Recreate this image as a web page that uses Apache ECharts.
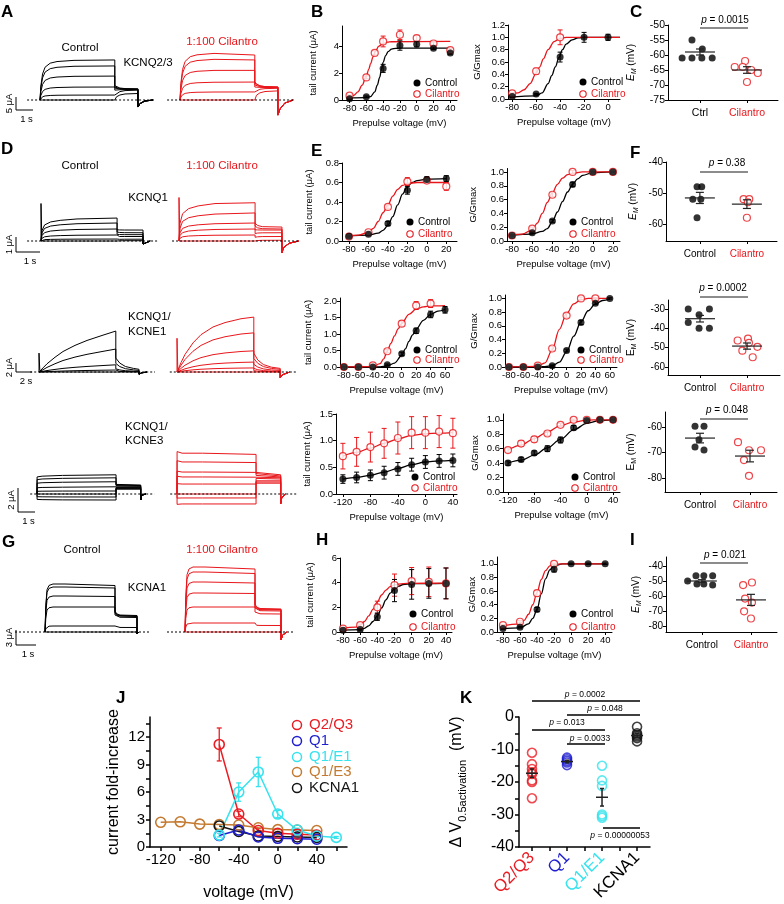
<!DOCTYPE html>
<html><head><meta charset="utf-8">
<script src="https://cdn.jsdelivr.net/npm/echarts@6/dist/echarts.min.js"></script>
<style>html,body{margin:0;padding:0;background:#fff}#c{width:784px;height:904px}</style>
</head><body><div id="c"></div>
<script>
// ======================= DATA =======================
// ---- Raw current traces (time s from pulse start, current µA) ----
// A: KCNQ2/3
const A_pulseEnd = 4.4, A_ctrlTailStop = 5.76, A_cilTailStop = 5.76;
const A_riseT = [0, 0.05, 0.15, 0.3, 0.6, 1.0, 2.0];
const A_riseF = [0, 0.35, 0.65, 0.82, 0.92, 0.96, 0.99];
const A_tailT = [0.1, 0.3, 0.6];
const A_tailG = [0.55, 0.25, 0.08];
const A_ctrlLevel = [15.4, 13.1, 9.2, 5.0, 1.9, 0];
const A_ctrlLevelEnd = [15.4, 13.1, 9.2, 5.0, 1.9, 0];
const A_ctrlTailStart = [5.5, 5.0, 4.6, 3.8, 1.5, 0.2];
const A_ctrlTailEnd = [4.3, 4.2, 4.1, 4.0, 3.8, 2.5];
const A_ctrlOff = [[0, -2.7], [0.12, -1.4], [0.4, -0.4], [0.9, 0]];
const A_ctrlBase = [-0.76, 6.65];
const A_cilLevel = [18.1, 15.8, 11.5, 6.9, 3.1, 0];
const A_cilLevelEnd = [17.3, 15.4, 11.4, 6.9, 3.1, 0];
const A_cilTailStart = [7.0, 6.5, 5.8, 5.0, 3.0, 0.5];
const A_cilTailEnd = [5.0, 5.0, 4.9, 4.8, 4.5, 3.5];
const A_cilOff = [[0, -5.8], [0.12, -3.5], [0.4, -1.2], [0.9, 0]];
const A_cilBase = [-0.76, 6.76];
const A_scale = [1, 5];
// D1: KCNQ1
const D1_pulseEnd = 3.17, D1_ctrlTailStop = 4.25, D1_cilTailStop = 4.29;
const D1_riseT = [0, 0.04, 0.15, 0.4, 0.8, 1.5];
const D1_riseF = [0, 0.45, 0.7, 0.83, 0.9, 0.96];
const D1_tailT = [0.1, 0.3];
const D1_tailG = [0.4, 0.1];
const D1_ctrlLevel = [1.53, 1.2, 0.8, 0.4, 0.13, 0];
const D1_ctrlLevelEnd = [1.53, 1.2, 0.8, 0.4, 0.13, 0];
const D1_ctrlTailStart = [0.75, 0.6, 0.45, 0.3, 0.1, 0];
const D1_ctrlTailEnd = [0.73, 0.55, 0.42, 0.3, 0.12, 0.02];
const D1_ctrlOff = [[0, -0.2], [0.05, -0.1], [0.3, 0]];
const D1_ctrlBase = [-0.58, 4.92];
const D1_ctrlSpike = [[0, 0], [0, 2.5], [0.03, 0.4]];
const D1_cilLevel = [2.6, 1.87, 1.2, 0.8, 0.4, 0];
const D1_cilLevelEnd = [2.55, 1.87, 1.2, 0.8, 0.4, 0];
const D1_cilTailStart = [1.2, 1.0, 0.75, 0.5, 0.25, 0];
const D1_cilTailEnd = [0.93, 0.8, 0.73, 0.55, 0.3, 0.05];
const D1_cilOff = [[0, -0.8], [0.06, -0.45], [0.3, -0.15], [0.7, 0]];
const D1_cilBase = [-0.29, 5.04];
const D1_cilSpike = [[0, 0], [0, 2.9], [0.03, 0.6]];
const D1_scale = [1, 1];
// D2: KCNQ1/KCNE1
const D2_pulseEnd = 9.6, D2_ctrlTailStop = 12.5, D2_cilTailStop = 12.9;
const D2_riseT = [0, 0.5, 1, 2, 3, 4.5, 6, 8];
const D2_ctrlRiseF = [0, 0.1, 0.2, 0.36, 0.5, 0.65, 0.77, 0.9];
const D2_cilRiseF = [0, 0.17, 0.32, 0.53, 0.68, 0.82, 0.9, 0.97];
const D2_tailT = [0.5, 1.2, 2.2];
const D2_tailG = [0.55, 0.25, 0.08];
const D2_ctrlLevel = [9.1, 5.1, 1.6, 0.44, 0];
const D2_ctrlTailStart = [3.1, 1.9, 0.7, 0.2, 0];
const D2_ctrlTailEnd = [0.6, 0.35, 0.15, 0.05, 0];
const D2_ctrlOff = [[0, -0.5], [0.3, -0.2], [1, 0]];
const D2_ctrlBase = [-1.1, 14.5];
const D2_ctrlSpike = [[0, 0], [0, 4.2], [0.1, 0.3]];
const D2_cilLevel = [12.2, 8.7, 4.7, 2.2, 0.9, 0];
const D2_cilTailStart = [4.2, 3.0, 1.7, 0.8, 0.3, 0];
const D2_cilTailEnd = [0.8, 0.6, 0.35, 0.15, 0.05, 0];
const D2_cilOff = [[0, -1.3], [0.3, -0.6], [1.2, 0]];
const D2_cilBase = [-0.9, 15.0];
const D2_cilSpike = [[0, 0], [0, 7.5], [0.1, 0.5]];
const D2_scale = [2, 2];
// D3: KCNQ1/KCNE3
const D3_pulseEnd = 4.65, D3_ctrlTailStop = 6.1, D3_cilTailStop = 6.1;
const D3_riseT = [0, 0.005, 0.3, 1.5];
const D3_ctrlRiseF = [0, 0.9, 0.94, 0.98];
const D3_cilRiseF = [0, 1.04, 1.0, 1.0];
const D3_tailT = [0.1];
const D3_tailG = [0.3];
const D3_ctrlLevel = [1.58, 1.33, 1.0, 0.58, 0.25, 0, -0.25, -0.5];
const D3_ctrlLevelEnd = [1.6, 1.35, 1.02, 0.6, 0.25, 0, -0.25, -0.5];
const D3_ctrlTailStart = [0.8, 0.75, 0.7, 0.62, 0.55, 0.5, 0.45, 0.4];
const D3_ctrlTailEnd = [0.75, 0.7, 0.65, 0.6, 0.55, 0.5, 0.45, 0.4];
const D3_ctrlOff = [[0, -0.5], [0.05, -0.1], [0.3, 0]];
const D3_ctrlBase = [-0.4, 6.9];
const D3_cilLevel = [3.4, 2.67, 1.83, 1.42, 0.83, 0, -0.33, -0.83];
const D3_cilLevelEnd = [3.3, 2.62, 1.8, 1.4, 0.83, 0, -0.33, -0.83];
const D3_cilTailStart = [1.8, 1.7, 1.55, 1.45, 1.3, 1.1, 1.0, 0.9];
const D3_cilTailEnd = [1.6, 1.5, 1.42, 1.35, 1.25, 1.1, 1.0, 0.9];
const D3_cilOff = [[0, -0.8], [0.06, -0.3], [0.3, 0]];
const D3_cilBase = [-0.4, 7.1];
const D3_scale = [1, 2];
// G: KCNA1
const G_pulseEnd = 3.5, G_ctrlTailStop = 4.6, G_cilTailStop = 4.8;
const G_riseT = [0, 0.04, 0.1, 0.2, 0.4, 1.0];
const G_riseF = [0, 0.55, 0.88, 0.97, 1.0, 1.0];
const G_tailT = [0.08, 0.25];
const G_tailG = [0.4, 0.1];
const G_ctrlLevel = [9.6, 9.0, 7.2, 5.0, 1.2, 0];
const G_ctrlLevelEnd = [9.3, 8.8, 7.1, 5.0, 1.2, 0];
const G_ctrlTailStart = [4.2, 4.0, 3.8, 3.4, 1.0, 0];
const G_ctrlTailEnd = [3.3, 3.2, 3.1, 2.9, 0.9, 0];
const G_ctrlOff = [[0, -0.4], [0.1, 0]];
const G_ctrlBase = [-1.5, 5.25];
const G_cilLevel = [13.0, 12.0, 10.0, 7.8, 5.0, 1.8, 0];
const G_cilLevelEnd = [12.6, 11.7, 9.8, 7.7, 5.0, 1.8, 0];
const G_cilTailStart = [5.6, 5.4, 5.1, 4.8, 4.0, 1.4, 0];
const G_cilTailEnd = [4.6, 4.5, 4.4, 4.2, 3.6, 1.3, 0];
const G_cilOff = [[0, -1.6], [0.08, -0.6], [0.3, 0]];
const G_cilBase = [-0.9, 5.5];
const G_scale = [1, 3];

// ---- B: KCNQ2/3 tail current & G/Gmax ----
const B_v = [-80, -60, -40, -20, 0, 20, 40];
const B_tailCtrl = [0.1, 0.25, 2.35, 4.05, 4.15, 3.85, 3.5];
const B_tailCtrlErr = [0.05, 0.05, 0.3, 0.35, 0.2, 0.1, 0.1];
const B_vCil = [-80, -60, -50, -40, -20, 0, 20, 40];
const B_tailCil = [0.32, 1.68, 3.5, 4.35, 4.85, 4.6, 4.2, 3.7];
const B_tailCilErr = [0.05, 0.1, 0.15, 0.4, 0.35, 0.2, 0.12, 0.1];
const B_fitCtrlV = [-82, -60, -55, -50, -47, -44, -42, -40, -37, -34, -30, -25, -20, 40];
const B_fitCtrl = [0.15, 0.17, 0.25, 0.6, 1.1, 1.7, 2.3, 2.8, 3.3, 3.6, 3.78, 3.84, 3.85, 3.85];
const B_fitCilV = [-82, -75, -70, -65, -60, -57, -55, -52, -50, -45, -40, -35, -30, 40];
const B_fitCil = [0.22, 0.35, 0.6, 1.1, 1.8, 2.3, 2.7, 3.2, 3.55, 4.0, 4.2, 4.3, 4.33, 4.35];
const B_gV = [-80, -60, -40, -20, 0];
const B_gCtrl = [0.04, 0.08, 0.68, 1.0, 1.0];
const B_gCtrlErr = [0.01, 0.01, 0.08, 0.08, 0.05];
const B_gVCil = [-80, -60, -40];
const B_gCil = [0.09, 0.45, 1.0];
const B_gCilErr = [0.01, 0.05, 0.12];
const B_gFitCtrlV = [-82, -60, -55, -50, -47, -44, -41, -38, -35, -30, -25, -20, 10];
const B_gFitCtrl = [0.03, 0.05, 0.1, 0.25, 0.38, 0.52, 0.67, 0.8, 0.89, 0.96, 0.99, 1.0, 1.0];
const B_gFitCilV = [-82, -75, -70, -65, -60, -57, -54, -50, -45, -40, -35, 10];
const B_gFitCil = [0.08, 0.1, 0.15, 0.25, 0.42, 0.52, 0.65, 0.8, 0.93, 0.98, 1.0, 1.0];
// ---- C: EM KCNQ2/3 ----
const C_ctrlX = [0.83, 1.05, 0.62, 0.83, 1.04, 1.26];
const C_ctrlY = [-55, -58, -61, -61, -61, -61];
const C_cilX = [1.96, 1.74, 1.91, 2.09, 2.23, 2.0];
const C_cilY = [-62, -64, -64, -65, -66, -69];
const C_mean = [-59, -65];
const C_sem = [1.0, 1.1];

// ---- E (KCNQ1) ----
const E1_v = [-80, -60, -40, -20, 0, 20];
const E1_tailCtrl = [0.05, 0.07, 0.18, 0.52, 0.63, 0.64];
const E1_tailCtrlErr = [0.01, 0.01, 0.02, 0.04, 0.03, 0.03];
const E1_tailCil = [0.045, 0.09, 0.35, 0.61, 0.62, 0.56];
const E1_tailCilErr = [0.01, 0.01, 0.02, 0.04, 0.02, 0.04];
const E1_fitCtrlV = [-82, -60, -50, -45, -40, -35, -30, -25, -20, -15, -10, 0, 20];
const E1_fitCtrl = [0.05, 0.06, 0.08, 0.11, 0.16, 0.25, 0.37, 0.48, 0.56, 0.6, 0.62, 0.635, 0.64];
const E1_fitCilV = [-82, -70, -60, -55, -50, -45, -40, -35, -30, -25, -20, -10, 20];
const E1_fitCil = [0.045, 0.06, 0.09, 0.13, 0.2, 0.29, 0.37, 0.46, 0.53, 0.57, 0.59, 0.6, 0.6];
const E1_gCtrl = [0.08, 0.12, 0.29, 0.82, 1.0, 1.0];
const E1_gCtrlErr = [0.01, 0.01, 0.02, 0.03, 0.01, 0.01];
const E1_gCil = [0.08, 0.18, 0.67, 1.0, 1.0, 1.0];
const E1_gCilErr = [0.01, 0.02, 0.03, 0.02, 0.01, 0.01];
const E1_gFitCtrlV = [-82, -60, -50, -45, -40, -35, -30, -25, -20, -15, -10, 0, 20];
const E1_gFitCtrl = [0.08, 0.1, 0.14, 0.18, 0.28, 0.42, 0.57, 0.71, 0.82, 0.9, 0.95, 0.99, 1.0];
const E1_gFitCilV = [-82, -70, -60, -55, -50, -45, -40, -35, -30, -25, -20, -10, 20];
const E1_gFitCil = [0.08, 0.1, 0.16, 0.26, 0.4, 0.56, 0.7, 0.82, 0.91, 0.96, 0.98, 1.0, 1.0];
const F1_ctrlX = [0.94, 1.04, 0.85, 1.02, 0.94];
const F1_ctrlY = [-48, -48, -52, -52, -58];
const F1_cilX = [1.93, 2.05, 2.02, 2.0];
const F1_cilY = [-52, -52, -53, -58];
const F1_mean = [-51.6, -53.6];
const F1_sem = [1.8, 1.4];

// ---- E (KCNQ1/KCNE1) ----
const E2_v = [-80, -60, -40, -20, 0, 20, 40, 60];
const E2_tailCtrl = [0, 0, 0, 0.07, 0.4, 1.1, 1.6, 1.74];
const E2_tailCtrlErr = [0, 0, 0, 0.02, 0.05, 0.08, 0.1, 0.1];
const E2_vCil = [-80, -60, -40, -20, 0, 20, 40];
const E2_tailCil = [0, 0, 0.05, 0.48, 1.32, 1.87, 1.93];
const E2_tailCilErr = [0, 0, 0.02, 0.05, 0.08, 0.12, 0.12];
const E2_fitCtrlV = [-82, -30, -20, -10, 0, 5, 10, 15, 20, 30, 40, 50, 60];
const E2_fitCtrl = [0, 0.005, 0.03, 0.12, 0.35, 0.55, 0.78, 0.98, 1.15, 1.42, 1.6, 1.7, 1.75];
const E2_fitCilV = [-82, -40, -30, -25, -20, -15, -10, -5, 0, 10, 20, 30, 40, 60];
const E2_fitCil = [0, 0.01, 0.1, 0.25, 0.48, 0.72, 0.95, 1.16, 1.33, 1.6, 1.76, 1.83, 1.86, 1.87];
const E2_gCtrl = [0, 0, 0, 0.02, 0.24, 0.65, 0.93, 1.0];
const E2_gCtrlErr = [0, 0, 0, 0.01, 0.02, 0.03, 0.02, 0.01];
const E2_gCil = [0, 0, 0.02, 0.27, 0.75, 1.0, 1.0];
const E2_gCilErr = [0, 0, 0.01, 0.03, 0.03, 0.02, 0.01];
const E2_gFitCtrlV = [-82, -30, -20, -10, 0, 10, 20, 30, 40, 50, 60];
const E2_gFitCtrl = [0, 0.005, 0.02, 0.07, 0.22, 0.45, 0.66, 0.82, 0.92, 0.97, 0.99];
const E2_gFitCilV = [-82, -40, -30, -20, -10, 0, 10, 20, 30, 40, 60];
const E2_gFitCil = [0, 0.01, 0.06, 0.25, 0.55, 0.78, 0.92, 0.98, 1.0, 1.0, 1.0];
const F2_ctrlX = [0.75, 1.2, 0.98, 0.75, 0.98, 1.2];
const F2_ctrlY = [-30, -30, -33, -37, -40, -40];
const F2_cilX = [1.8, 2.02, 2.04, 1.9, 2.22, 2.12];
const F2_cilY = [-46.3, -45.3, -47.5, -51.6, -49.6, -55];
const F2_mean = [-35, -49.2];
const F2_sem = [1.7, 1.6];

// ---- E (KCNQ1/KCNE3) ----
const E3_v = [-120, -100, -80, -60, -40, -20, 0, 20, 40];
const E3_tailCtrl = [0.28, 0.31, 0.35, 0.4, 0.47, 0.55, 0.6, 0.62, 0.63];
const E3_tailCtrlErr = [0.08, 0.1, 0.1, 0.12, 0.12, 0.12, 0.12, 0.12, 0.12];
const E3_tailCil = [0.71, 0.79, 0.88, 0.95, 1.05, 1.15, 1.15, 1.17, 1.14];
const E3_tailCilErr = [0.24, 0.27, 0.28, 0.28, 0.3, 0.3, 0.3, 0.3, 0.28];
const E3_fitCtrl = [0.28, 0.31, 0.35, 0.41, 0.48, 0.55, 0.6, 0.62, 0.63];
const E3_fitCil = [0.71, 0.78, 0.86, 0.95, 1.03, 1.1, 1.13, 1.14, 1.15];
const E3_gCtrl = [0.4, 0.45, 0.54, 0.6, 0.72, 0.89, 0.99, 1.0, 1.0];
const E3_gCtrlErr = [0.03, 0.03, 0.03, 0.04, 0.04, 0.03, 0.02, 0.01, 0.01];
const E3_gCil = [0.58, 0.67, 0.73, 0.81, 0.93, 1.0, 1.0, 1.0, 1.0];
const E3_gCilErr = [0.03, 0.04, 0.04, 0.03, 0.02, 0.01, 0.01, 0.01, 0.01];
const E3_gFitCtrl = [0.4, 0.44, 0.51, 0.61, 0.73, 0.86, 0.95, 0.99, 1.0];
const E3_gFitCil = [0.58, 0.65, 0.74, 0.83, 0.92, 0.97, 0.995, 1.0, 1.0];
const F3_ctrlX = [0.9, 1.08, 0.98, 0.9, 1.08];
const F3_ctrlY = [-59.6, -59.6, -65, -67.8, -69];
const F3_cilX = [1.76, 1.98, 2.22, 1.88, 1.98];
const F3_cilY = [-65.9, -69.1, -69.1, -73, -79.2];
const F3_mean = [-64.3, -71.4];
const F3_sem = [1.9, 2.3];

// ---- H (KCNA1) ----
const H_v = [-80, -60, -40, -20, 0, 20, 40];
const H_tailCtrl = [0.14, 0.2, 1.24, 3.36, 3.86, 3.94, 3.94];
const H_tailCtrlErr = [0.05, 0.1, 0.3, 0.9, 1.2, 1.2, 1.25];
const H_tailCil = [0.28, 0.55, 2.0, 3.8, 4.13, 4.07, 3.94];
const H_tailCilErr = [0.05, 0.1, 0.5, 0.9, 1.1, 1.2, 1.25];
const H_fitCtrlV = [-82, -60, -55, -50, -45, -40, -35, -30, -25, -20, -15, -10, 0, 40];
const H_fitCtrl = [0.15, 0.2, 0.3, 0.5, 0.85, 1.3, 1.95, 2.6, 3.15, 3.5, 3.72, 3.85, 3.92, 3.95];
const H_fitCilV = [-82, -65, -60, -55, -50, -45, -40, -35, -30, -25, -20, -10, 0, 40];
const H_fitCil = [0.3, 0.4, 0.55, 0.85, 1.3, 1.85, 2.45, 3.0, 3.4, 3.68, 3.82, 3.93, 3.95, 3.97];
const H_gCtrl = [0.05, 0.07, 0.33, 0.92, 1.0, 1.0, 1.0];
const H_gCtrlErr = [0.01, 0.01, 0.03, 0.04, 0.01, 0.01, 0.01];
const H_gVCil = [-80, -60, -40, -20];
const H_gCil = [0.1, 0.15, 0.57, 1.0];
const H_gCilErr = [0.01, 0.02, 0.04, 0.01];
const H_gFitCtrlV = [-82, -60, -50, -45, -40, -35, -30, -25, -20, -10, 40];
const H_gFitCtrl = [0.05, 0.06, 0.12, 0.2, 0.33, 0.56, 0.78, 0.91, 0.97, 1.0, 1.0];
const H_gFitCilV = [-82, -60, -55, -50, -45, -40, -35, -30, -25, -20, -10, 40];
const H_gFitCil = [0.09, 0.12, 0.17, 0.26, 0.4, 0.58, 0.77, 0.9, 0.97, 0.99, 1.0, 1.0];
const I_ctrlX = [0.71, 0.88, 1.04, 1.22, 0.9, 1.04, 1.22];
const I_ctrlY = [-50, -46.5, -46.5, -46.5, -52, -52, -52.7];
const I_cilX = [1.84, 2.02, 1.88, 2.02, 1.86, 2.0];
const I_cilY = [-52.7, -51, -61.7, -64.4, -70.2, -75];
const I_mean = [-50, -62.6];
const I_sem = [0.9, 3.7];

// ---- J: current fold-increase ----
const J_names = ['Q2/Q3', 'Q1', 'Q1/E1', 'Q1/E3', 'KCNA1'];
const J_q23V = [-60, -40, -20, 0, 20, 40];
const J_q23 = [11.2, 3.6, 1.8, 1.5, 1.4, 1.3];
const J_q23Err = [1.8, 0.3, 0.2, 0.1, 0.1, 0.1];
const J_q1V = [-60, -40, -20, 0, 20, 40];
const J_q1 = [1.25, 1.85, 1.1, 0.95, 0.9, 0.85];
const J_qe1V = [-60, -40, -20, 0, 20, 40, 60];
const J_qe1 = [1.3, 6.0, 8.2, 3.6, 1.85, 1.2, 1.05];
const J_qe1Err = [0.2, 1.0, 1.6, 0.4, 0.2, 0.1, 0.1];
const J_qe3V = [-120, -100, -80, -60, -40, -20, 0, 20, 40];
const J_qe3 = [2.7, 2.75, 2.5, 2.45, 2.4, 2.1, 1.9, 1.85, 1.8];
const J_kaV = [-60, -40, -20, 0, 20, 40];
const J_ka = [2.3, 1.7, 1.2, 1.15, 1.1, 1.05];

// ---- K: delta V0.5 activation ----
const K_names = ['Q2/Q3', 'Q1', 'Q1/E1', 'KCNA1'];
const K_q23 = [-11, -14.5, -16, -17, -17.5, -19.5, -20, -25];
const K_q1 = [-12.5, -13, -13.5, -14, -14.8];
const K_qe1 = [-15, -19.5, -21.2, -30, -30.5, -31];
const K_ka = [-3, -5, -5.5, -6, -6.5, -7.5];
const K_mean = [-17.3, -13.7, -24.7, -5.7];
const K_sem = [1.3, 0.4, 2.7, 0.6];
const K_pvals = ['0.0002', '0.048', '0.013', '0.0033', '0.00000053'];

// ======================= BUILD =======================
const FONT = '"Liberation Sans", Arial, Helvetica, sans-serif';
const RED = '#e8161b';
const CJ = ['#ea1d24', '#1f1fcf', '#36e3ee', '#c47a30', '#151515'];
const grids = [], xAxis = [], yAxis = [], series = [], graphic = [];

const pairs = (xs, ys) => xs.map((x, i) => [x, ys[i]]);
const triples = (xs, ys, es) => xs.map((x, i) => [x, ys[i], es[i]]);
const steps = (a, b, s) => { const r = []; for (let v = a; v <= b + 1e-9; v += s) r.push(+v.toFixed(4)); return r; };

function addGrid(left, top, width, height, xa, ya) {
  const i = grids.length;
  grids.push({ left, top, width, height, containLabel: false, outerBoundsMode: 'none' });
  xa.gridIndex = i; ya.gridIndex = i;
  xAxis.push(xa); yAxis.push(ya);
  return i;
}
function valAxis(min, max, ticks, labels, fmt, fs, extra) {
  const a = {
    type: 'value', min, max,
    axisLine: { show: true, onZero: false, lineStyle: { color: '#000', width: 1 } },
    axisTick: { show: true, customValues: ticks, length: 3, inside: false, lineStyle: { color: '#000', width: 1 } },
    axisLabel: { show: true, customValues: labels, formatter: fmt, color: '#000', fontSize: fs, fontFamily: FONT, margin: 3, hideOverlap: false },
    splitLine: { show: false }, splitArea: { show: false }
  };
  return Object.assign(a, extra || {});
}
const hid = (min, max) => ({ type: 'value', min, max, show: false, splitLine: { show: false } });
function nameOpts(name, gap, fs, rich) {
  return { name, nameLocation: 'middle', nameGap: gap, nameTextStyle: { fontSize: fs, fontFamily: FONT, color: '#000', rich: rich || {} } };
}
function txt(x, y, text, o) {
  o = o || {};
  graphic.push({
    type: 'text', x, y, rotation: o.rot || 0, silent: true, z: 100,
    style: {
      text, fill: o.fill || '#000', font: (o.bold ? 'bold ' : '') + (o.fs || 11) + 'px ' + FONT,
      textAlign: o.align || 'center', align: o.align || 'center',
      textVerticalAlign: o.va || 'middle', verticalAlign: o.va || 'middle', rich: o.rich
    }
  });
}
function gline(x1, y1, x2, y2, color, w) {
  graphic.push({ type: 'line', silent: true, z: 100, shape: { x1, y1, x2, y2 }, style: { stroke: color || '#000', lineWidth: w || 1 } });
}
function gcircle(cx, cy, r, fill, stroke, w) {
  graphic.push({ type: 'circle', silent: true, z: 100, shape: { cx, cy, r }, style: { fill, stroke, lineWidth: w || 1 } });
}
function errSeries(gi, data, color, cap, w) {
  return {
    type: 'custom', xAxisIndex: gi, yAxisIndex: gi, data, z: 2, silent: true,
    renderItem: (p, api) => {
      const x = api.value(0), y = api.value(1), e = api.value(2);
      const a = api.coord([x, y + e]), b = api.coord([x, y - e]);
      const st = { stroke: color, lineWidth: w || 1, fill: null };
      return { type: 'group', children: [
        { type: 'line', shape: { x1: a[0], y1: a[1], x2: b[0], y2: b[1] }, style: st },
        { type: 'line', shape: { x1: a[0] - cap, y1: a[1], x2: a[0] + cap, y2: a[1] }, style: st },
        { type: 'line', shape: { x1: b[0] - cap, y1: b[1], x2: b[0] + cap, y2: b[1] }, style: st }] };
    }
  };
}
function meanSeries(gi, data, color, hw, cap, w) {
  return {
    type: 'custom', xAxisIndex: gi, yAxisIndex: gi, data, z: 6, silent: true,
    renderItem: (p, api) => {
      const x = api.value(0), m = api.value(1), s = api.value(2);
      const c = api.coord([x, m]), a = api.coord([x, m + s]), b = api.coord([x, m - s]);
      const st = { stroke: color, lineWidth: w || 1.2, fill: null };
      return { type: 'group', children: [
        { type: 'line', shape: { x1: c[0] - hw, y1: c[1], x2: c[0] + hw, y2: c[1] }, style: st },
        { type: 'line', shape: { x1: a[0], y1: a[1], x2: b[0], y2: b[1] }, style: st },
        { type: 'line', shape: { x1: a[0] - cap, y1: a[1], x2: a[0] + cap, y2: a[1] }, style: st },
        { type: 'line', shape: { x1: b[0] - cap, y1: b[1], x2: b[0] + cap, y2: b[1] }, style: st }] };
    }
  };
}
const lineS = (gi, data, color, w, extra) => Object.assign({ type: 'line', xAxisIndex: gi, yAxisIndex: gi, data, showSymbol: false, symbol: 'none', silent: true, lineStyle: { color, width: w || 1.2 }, z: 1 }, extra || {});
const fitS = (gi, data, color) => lineS(gi, data, color, 1.3, { smooth: 0.35, smoothMonotone: 'x' });
const dotF = (gi, data, size) => ({ type: 'scatter', xAxisIndex: gi, yAxisIndex: gi, data, symbol: 'circle', symbolSize: size || 7, itemStyle: { color: '#000' }, silent: true, z: 5 });
const dotO = (gi, data, size) => ({ type: 'scatter', xAxisIndex: gi, yAxisIndex: gi, data, symbol: 'circle', symbolSize: size || 7, itemStyle: { color: '#fff', borderColor: RED, borderWidth: 1.2 }, silent: true, z: 4 });

// ---------- trace panels ----------
const TRACE_ROWS = [
  { B: 100, pxps: 17, pxpu: 2.6, ctrlPulse: 40, cilPulse: 180, bar: [16, 110], scale: A_scale },
  { B: 241, pxps: 24, pxpu: 15, ctrlPulse: 41, cilPulse: 179, bar: [16, 252], scale: D1_scale },
  { B: 372, pxps: 8, pxpu: 4.5, ctrlPulse: 39, cilPulse: 177, bar: [16, 372], scale: D2_scale },
  { B: 494, pxps: 17, pxpu: 12, ctrlPulse: 37, cilPulse: 177, bar: [18, 512], scale: D3_scale },
  { B: 632, pxps: 20, pxpu: 5, ctrlPulse: 45, cilPulse: 185, bar: [16, 645], scale: G_scale }
];
const TRACE_SETS = [
  { row: 0, ctrl: { P: A_pulseEnd, Q: A_ctrlTailStop, rt: A_riseT, rf: A_riseF, tt: A_tailT, tg: A_tailG, lv: A_ctrlLevel, le: A_ctrlLevelEnd, ts: A_ctrlTailStart, te: A_ctrlTailEnd, off: A_ctrlOff, base: A_ctrlBase },
            cil: { P: A_pulseEnd, Q: A_cilTailStop, rt: A_riseT, rf: A_riseF, tt: A_tailT, tg: A_tailG, lv: A_cilLevel, le: A_cilLevelEnd, ts: A_cilTailStart, te: A_cilTailEnd, off: A_cilOff, base: A_cilBase } },
  { row: 1, ctrl: { P: D1_pulseEnd, Q: D1_ctrlTailStop, rt: D1_riseT, rf: D1_riseF, tt: D1_tailT, tg: D1_tailG, lv: D1_ctrlLevel, le: D1_ctrlLevelEnd, ts: D1_ctrlTailStart, te: D1_ctrlTailEnd, off: D1_ctrlOff, base: D1_ctrlBase, spike: D1_ctrlSpike },
            cil: { P: D1_pulseEnd, Q: D1_cilTailStop, rt: D1_riseT, rf: D1_riseF, tt: D1_tailT, tg: D1_tailG, lv: D1_cilLevel, le: D1_cilLevelEnd, ts: D1_cilTailStart, te: D1_cilTailEnd, off: D1_cilOff, base: D1_cilBase, spike: D1_cilSpike } },
  { row: 2, ctrl: { P: D2_pulseEnd, Q: D2_ctrlTailStop, rt: D2_riseT, rf: D2_ctrlRiseF, tt: D2_tailT, tg: D2_tailG, lv: D2_ctrlLevel, le: D2_ctrlLevel, ts: D2_ctrlTailStart, te: D2_ctrlTailEnd, off: D2_ctrlOff, base: D2_ctrlBase, spike: D2_ctrlSpike },
            cil: { P: D2_pulseEnd, Q: D2_cilTailStop, rt: D2_riseT, rf: D2_cilRiseF, tt: D2_tailT, tg: D2_tailG, lv: D2_cilLevel, le: D2_cilLevel, ts: D2_cilTailStart, te: D2_cilTailEnd, off: D2_cilOff, base: D2_cilBase, spike: D2_cilSpike } },
  { row: 3, ctrl: { P: D3_pulseEnd, Q: D3_ctrlTailStop, rt: D3_riseT, rf: D3_ctrlRiseF, tt: D3_tailT, tg: D3_tailG, lv: D3_ctrlLevel, le: D3_ctrlLevelEnd, ts: D3_ctrlTailStart, te: D3_ctrlTailEnd, off: D3_ctrlOff, base: D3_ctrlBase },
            cil: { P: D3_pulseEnd, Q: D3_cilTailStop, rt: D3_riseT, rf: D3_cilRiseF, tt: D3_tailT, tg: D3_tailG, lv: D3_cilLevel, le: D3_cilLevelEnd, ts: D3_cilTailStart, te: D3_cilTailEnd, off: D3_cilOff, base: D3_cilBase } },
  { row: 4, ctrl: { P: G_pulseEnd, Q: G_ctrlTailStop, rt: G_riseT, rf: G_riseF, tt: G_tailT, tg: G_tailG, lv: G_ctrlLevel, le: G_ctrlLevelEnd, ts: G_ctrlTailStart, te: G_ctrlTailEnd, off: G_ctrlOff, base: G_ctrlBase },
            cil: { P: G_pulseEnd, Q: G_cilTailStop, rt: G_riseT, rf: G_riseF, tt: G_tailT, tg: G_tailG, lv: G_cilLevel, le: G_cilLevelEnd, ts: G_cilTailStart, te: G_cilTailEnd, off: G_cilOff, base: G_cilBase } }
];
function buildTrace(s, k) {
  const d = [];
  s.rt.forEach((t, i) => d.push([t, s.lv[k] * s.rf[i]]));
  d.push([s.P, s.le[k]]);
  d.push([s.P, s.ts[k]]);
  s.tt.forEach((t, i) => d.push([s.P + t, s.te[k] + (s.ts[k] - s.te[k]) * s.tg[i]]));
  d.push([s.Q, s.te[k]]);
  s.off.forEach(p => d.push([s.Q + p[0], p[1]]));
  return d;
}
TRACE_SETS.forEach(set => {
  const R = TRACE_ROWS[set.row];
  const sides = [['ctrl', 5, 155, R.ctrlPulse, '#000'], ['cil', 160, 145, R.cilPulse, RED]];
  sides.forEach(([key, left, width, pulse, color]) => {
    const s = set[key];
    const xmin = (left - pulse) / R.pxps, xmax = xmin + width / R.pxps;
    const up = 72, dn = 25;
    const gi = addGrid(left, R.B - up, width, up + dn, hid(xmin, xmax), hid(-dn / R.pxpu, up / R.pxpu));
    series.push(lineS(gi, [[s.base[0], 0], [s.base[1], 0]], '#000', 1, { lineStyle: { color: '#000', width: 1, type: [2, 2] }, z: 3 }));
    s.lv.forEach((_, k) => series.push(lineS(gi, buildTrace(s, k), color, 1, { z: 2 })));
    if (s.spike) series.push(lineS(gi, s.spike, color, 1, { z: 2 }));
  });
  const [bx, by] = R.bar;
  const hl = R.scale[0] * R.pxps, vl = R.scale[1] * R.pxpu;
  gline(bx, by, bx + hl, by, '#000', 1);
  gline(bx, by, bx, by - vl, '#000', 1);
  txt(bx - 7, by - vl / 2, R.scale[1] + ' μA', { fs: 9.5, rot: Math.PI / 2 });
  txt(bx + hl / 2 + 2, by + 9, R.scale[0] + ' s', { fs: 9.5 });
});

// ---------- IV / G-V panels ----------
const fmt0 = v => String(v), fmt1 = v => v.toFixed(1);
function ivPanel(c) {
  const xa = valAxis(c.x[0], c.x[1], c.xt, c.xt, fmt0, 9.5, nameOpts('Prepulse voltage (mV)', 18, 9.5));
  const ya = valAxis(c.y[0], c.y[1], c.yt, c.yt, c.yf, 9.5, nameOpts(c.yName, c.yGap, 9.5));
  const gi = addGrid(c.l, c.t, c.w, c.h, xa, ya);
  series.push(fitS(gi, pairs(c.fcV, c.fc), '#000'));
  series.push(fitS(gi, pairs(c.frV, c.fr), RED));
  series.push(errSeries(gi, triples(c.rV, c.r, c.rE), RED, 2.5));
  series.push(errSeries(gi, triples(c.cV, c.c, c.cE), '#000', 2.5));
  series.push(dotO(gi, pairs(c.rV, c.r)));
  series.push(dotF(gi, pairs(c.cV, c.c)));
  const [lx, ly1, ly2] = c.leg;
  gcircle(lx, ly1, 3.5, '#000', null, 0);
  gcircle(lx, ly2, 3.2, '#fff', RED, 1.1);
  txt(lx + 8, ly1, 'Control', { align: 'left', fs: 10 });
  txt(lx + 8, ly2, 'Cilantro', { align: 'left', fs: 10, fill: RED });
}
const xt80_40 = steps(-80, 40, 20), xt80_0 = steps(-80, 0, 20), xt80_20 = steps(-80, 20, 20), xt80_60 = steps(-80, 60, 20), xt120 = steps(-120, 40, 40);
const yt01 = steps(0, 1, 0.2);
const TAIL = 'tail current (μA)';
ivPanel({ l: 342, t: 26, w: 115, h: 74, x: [-89, 48], y: [0, 5.5], xt: xt80_40, yt: [0, 2, 4], yf: fmt0, yName: TAIL, yGap: 24, leg: [417, 83, 94],
  cV: B_v, c: B_tailCtrl, cE: B_tailCtrlErr, rV: B_vCil, r: B_tailCil, rE: B_tailCilErr, fcV: B_fitCtrlV, fc: B_fitCtrl, frV: B_fitCilV, fr: B_fitCil });
ivPanel({ l: 508, t: 25, w: 112, h: 74, x: [-83.5, 10], y: [0, 1.2], xt: xt80_0, yt: steps(0, 1.2, 0.2), yf: fmt1, yName: 'G/Gmax', yGap: 26, leg: [583, 82, 94],
  cV: B_gV, c: B_gCtrl, cE: B_gCtrlErr, rV: B_gVCil, r: B_gCil, rE: B_gCilErr, fcV: B_gFitCtrlV, fc: B_gFitCtrl, frV: B_gFitCilV, fr: B_gFitCil });
ivPanel({ l: 342, t: 163, w: 115, h: 78, x: [-87.2, 31], y: [0, 0.8], xt: xt80_20, yt: steps(0, 0.8, 0.2), yf: fmt1, yName: TAIL, yGap: 28, leg: [410, 222, 234],
  cV: E1_v, c: E1_tailCtrl, cE: E1_tailCtrlErr, rV: E1_v, r: E1_tailCil, rE: E1_tailCilErr, fcV: E1_fitCtrlV, fc: E1_fitCtrl, frV: E1_fitCilV, fr: E1_fitCil });
ivPanel({ l: 507, t: 168.5, w: 113, h: 72.5, x: [-85, 27], y: [0, 1.05], xt: xt80_20, yt: yt01, yf: fmt1, yName: 'G/Gmax', yGap: 29, leg: [573, 222, 234],
  cV: E1_v, c: E1_gCtrl, cE: E1_gCtrlErr, rV: E1_v, r: E1_gCil, rE: E1_gCilErr, fcV: E1_gFitCtrlV, fc: E1_gFitCtrl, frV: E1_gFitCilV, fr: E1_gFitCil });
ivPanel({ l: 340, t: 298, w: 113, h: 69, x: [-85.5, 71], y: [0, 2.1], xt: xt80_60, yt: steps(0, 2, 0.5), yf: fmt1, yName: TAIL, yGap: 27, leg: [417, 350, 360],
  cV: E2_v, c: E2_tailCtrl, cE: E2_tailCtrlErr, rV: E2_vCil, r: E2_tailCil, rE: E2_tailCilErr, fcV: E2_fitCtrlV, fc: E2_fitCtrl, frV: E2_fitCilV, fr: E2_fitCil });
ivPanel({ l: 505, t: 295, w: 112, h: 72, x: [-85.5, 70], y: [0, 1.05], xt: xt80_60, yt: yt01, yf: fmt1, yName: 'G/Gmax', yGap: 26, leg: [581, 350, 360],
  cV: E2_v, c: E2_gCtrl, cE: E2_gCtrlErr, rV: E2_vCil, r: E2_gCil, rE: E2_gCilErr, fcV: E2_gFitCtrlV, fc: E2_gFitCtrl, frV: E2_gFitCilV, fr: E2_gFitCil });
ivPanel({ l: 336, t: 414, w: 121, h: 80, x: [-130, 46], y: [0, 1.5], xt: xt120, yt: steps(0, 1.5, 0.5), yf: fmt1, yName: TAIL, yGap: 24, leg: [415, 477, 488],
  cV: E3_v, c: E3_tailCtrl, cE: E3_tailCtrlErr, rV: E3_v, r: E3_tailCil, rE: E3_tailCilErr, fcV: E3_v, fc: E3_fitCtrl, frV: E3_v, fr: E3_fitCil });
ivPanel({ l: 503, t: 414, w: 117, h: 78, x: [-127.6, 50.6], y: [0, 1.08], xt: xt120, yt: yt01, yf: fmt1, yName: 'G/Gmax', yGap: 23, leg: [575, 477, 488],
  cV: E3_v, c: E3_gCtrl, cE: E3_gCtrlErr, rV: E3_v, r: E3_gCil, rE: E3_gCilErr, fcV: E3_v, fc: E3_gFitCtrl, frV: E3_v, fr: E3_gFitCil });
ivPanel({ l: 340, t: 558, w: 112, h: 74, x: [-83.5, 47], y: [0, 6], xt: xt80_40, yt: [0, 2, 4, 6], yf: fmt0, yName: TAIL, yGap: 25, leg: [413, 614, 627],
  cV: H_v, c: H_tailCtrl, cE: H_tailCtrlErr, rV: H_v, r: H_tailCil, rE: H_tailCilErr, fcV: H_fitCtrlV, fc: H_fitCtrl, frV: H_fitCilV, fr: H_fitCil });
ivPanel({ l: 497, t: 557, w: 115, h: 75, x: [-87, 48], y: [0, 1.1], xt: xt80_40, yt: yt01, yf: fmt1, yName: 'G/Gmax', yGap: 20, leg: [573, 614, 627],
  cV: H_v, c: H_gCtrl, cE: H_gCtrlErr, rV: H_gVCil, r: H_gCil, rE: H_gCilErr, fcV: H_gFitCtrlV, fc: H_gFitCtrl, frV: H_gFitCilV, fr: H_gFitCil });

// ---------- EM dot panels ----------
function dotPanel(c) {
  const xa = valAxis(c.x[0], c.x[1], [1, 2], [1, 2], v => (v === 1 ? '{k|' + c.ctrlName + '}' : '{r|Cilantro}'), c.fs);
  xa.axisLabel.rich = { k: { color: '#000', fontSize: c.fs, fontFamily: FONT }, r: { color: RED, fontSize: c.fs, fontFamily: FONT } };
  xa.axisLabel.margin = 8;
  const st = c.italic ? 'italic' : 'normal';
  const rich = { e: { fontStyle: st, fontSize: 10, fontFamily: FONT }, m: { fontStyle: st, fontSize: 7, fontFamily: FONT, verticalAlign: 'bottom', lineHeight: 14 }, n: { fontSize: 10, fontFamily: FONT } };
  const ya = valAxis(c.y[0], c.y[1], c.yt, c.yt, fmt0, c.fs, nameOpts('{e|E}{m|M}{n| (mV)}', c.yGap, 10, rich));
  const gi = addGrid(c.l, c.t, c.w, c.h, xa, ya);
  series.push(dotF(gi, pairs(c.cx, c.cy), 7));
  series.push(dotO(gi, pairs(c.rx, c.ry), 7));
  series.push(meanSeries(gi, [[1, c.mean[0], c.sem[0]], [2, c.mean[1], c.sem[1]]], '#222', 15, 4, 1.2));
  const [tx, ty, x1, x2, ly] = c.p;
  gline(x1, ly, x2, ly, '#666', 1.3);
  txt(tx, ty, '{i|p} = ' + c.pText, { fs: 10, rich: { i: { fontStyle: 'italic', fontSize: 10, fontFamily: FONT } } });
}
dotPanel({ l: 668, t: 25, w: 110, h: 75, x: [0.32, 2.66], y: [-75, -50], yt: steps(-75, -50, 5), italic: true, yGap: 30, fs: 10.5, ctrlName: 'Ctrl',
  cx: C_ctrlX, cy: C_ctrlY, rx: C_cilX, ry: C_cilY, mean: C_mean, sem: C_sem, pText: '0.0015', p: [725, 20, 700, 748, 28] });
dotPanel({ l: 666, t: 162, w: 111, h: 79, x: [0.28, 2.64], y: [-65.5, -40], yt: [-60, -50, -40], italic: true, yGap: 26, fs: 10, ctrlName: 'Control',
  cx: F1_ctrlX, cy: F1_ctrlY, rx: F1_cilX, ry: F1_cilY, mean: F1_mean, sem: F1_sem, pText: '0.38', p: [727, 163, 700, 748, 172] });
dotPanel({ l: 668, t: 300, w: 112, h: 75, x: [0.32, 2.7], y: [-64.2, -25.3], yt: [-60, -50, -40, -30], italic: false, yGap: 30, fs: 10, ctrlName: 'Control',
  cx: F2_ctrlX, cy: F2_ctrlY, rx: F2_cilX, ry: F2_cilY, mean: F2_mean, sem: F2_sem, pText: '0.0002', p: [723, 288, 700, 748, 297] });
dotPanel({ l: 665, t: 412, w: 112, h: 80, x: [0.3, 2.54], y: [-85.6, -54], yt: [-80, -70, -60], italic: false, yGap: 27, fs: 10, ctrlName: 'Control',
  cx: F3_ctrlX, cy: F3_ctrlY, rx: F3_cilX, ry: F3_cilY, mean: F3_mean, sem: F3_sem, pText: '0.048', p: [727, 410, 700, 748, 419] });
dotPanel({ l: 666, t: 557, w: 111, h: 75, x: [0.27, 2.53], y: [-84, -34], yt: [-80, -70, -60, -50, -40], italic: true, yGap: 23, fs: 10, ctrlName: 'Control',
  cx: I_ctrlX, cy: I_ctrlY, rx: I_cilX, ry: I_cilY, mean: I_mean, sem: I_sem, pText: '0.021', p: [725, 555, 700, 748, 563] });

// ---------- J ----------
(function () {
  const xa = valAxis(-131, 71, steps(-120, 60, 20), xt120, fmt0, 15, nameOpts('voltage (mV)', 38, 16));
  const ya = valAxis(0, 14.2, steps(0, 13.5, 1.5), [0, 3, 6, 9, 12], fmt0, 15, nameOpts('current fold-increase', 28, 16));
  [xa, ya].forEach(a => { a.axisLine.lineStyle.width = 1.5; a.axisTick.lineStyle.width = 1.5; a.axisTick.length = 4; a.axisLabel.margin = 5; });
  const gi = addGrid(150, 717, 197, 130, xa, ya);
  const mk = (xs, ys, col) => ({ type: 'line', xAxisIndex: gi, yAxisIndex: gi, data: pairs(xs, ys), symbol: 'circle', symbolSize: 10, showSymbol: true, silent: true,
    lineStyle: { color: col, width: 1.5 }, itemStyle: { color: 'rgba(255,255,255,0)', borderColor: col, borderWidth: 1.6 }, z: 3 });
  series.push(mk(J_qe3V, J_qe3, CJ[3]));
  series.push(mk(J_kaV, J_ka, CJ[4]));
  series.push(mk(J_q23V, J_q23, CJ[0]));
  series.push(mk(J_q1V, J_q1, CJ[1]));
  series.push(mk(J_qe1V, J_qe1, CJ[2]));
  series.push(errSeries(gi, triples(J_q23V, J_q23, J_q23Err), CJ[0], 2.5, 1.3));
  series.push(errSeries(gi, triples(J_qe1V, J_qe1, J_qe1Err), CJ[2], 2.5, 1.3));
  const ly = [725, 741, 757, 772, 788];
  J_names.forEach((n, i) => {
    gcircle(297, ly[i], 4.5, 'rgba(255,255,255,0)', CJ[i], 1.5);
    txt(309, ly[i], n, { align: 'left', fs: 15, fill: CJ[i] });
  });
})();

// ---------- K ----------
(function () {
  const xa = valAxis(0.629, 4.37, steps(1, 4, 0.5), [1, 2, 3, 4], v => '{c' + v + '|' + K_names[v - 1] + '}', 17);
  xa.axisLabel.rotate = 45; xa.axisLabel.margin = 8;
  xa.axisLabel.rich = {};
  K_names.forEach((n, i) => { xa.axisLabel.rich['c' + (i + 1)] = { color: [CJ[0], CJ[1], CJ[2], '#000'][i], fontSize: 17, fontFamily: FONT }; });
  const rich = { a: { fontSize: 16, fontFamily: FONT, lineHeight: 22 }, s: { fontSize: 11, fontFamily: FONT, verticalAlign: 'bottom', lineHeight: 22 } };
  const ya = valAxis(-40, 0, steps(-40, 0, 5), steps(-40, 0, 10), fmt0, 16, nameOpts('{a|Δ V}{s|0.5activation}{a|  (mV)}', 51, 16, rich));
  [xa, ya].forEach(a => { a.axisLine.lineStyle.width = 1.5; a.axisTick.lineStyle.width = 1.5; a.axisTick.length = 4; });
  ya.axisLabel.margin = 5;
  const gi = addGrid(519, 717, 131, 130, xa, ya);
  const grp = [K_q23, K_q1, K_qe1, K_ka];
  const cols = [CJ[0], CJ[1], CJ[2], '#111'];
  grp.forEach((vals, i) => series.push({ type: 'scatter', xAxisIndex: gi, yAxisIndex: gi, data: vals.map(v => [i + 1, v]), symbol: 'circle', symbolSize: 9, silent: true,
    itemStyle: { color: 'rgba(255,255,255,0)', borderColor: cols[i], borderWidth: 1.6 }, z: 3 }));
  series.push(meanSeries(gi, K_mean.map((m, i) => [i + 1, m, K_sem[i]]), '#222', 6, 2, 1.5));
  const pLay = [[585, 695, 532, 640, 701], [605, 709, 567, 640, 715], [567, 723, 532, 605, 730], [590, 739, 567, 605, 744], [620, 836, 603, 640, 828]];
  K_pvals.forEach((p, i) => {
    const [tx, ty, x1, x2, ly] = pLay[i];
    gline(x1, ly, x2, ly, '#000', 1.3);
    txt(tx, ty, '{i|p} = ' + p, { fs: 8.5, rich: { i: { fontStyle: 'italic', fontSize: 8.5, fontFamily: FONT } } });
  });
})();

// ---------- texts ----------
[['A', 1, 4], ['B', 311, 4], ['C', 630, 4], ['D', 1, 141], ['E', 311, 143], ['F', 630, 145], ['G', 2, 534], ['H', 316, 532], ['I', 630, 532], ['J', 116, 690], ['K', 460, 690]]
  .forEach(([t, x, y]) => txt(x, y, t, { align: 'left', va: 'top', bold: true, fs: 17 }));
txt(80, 48, 'Control', { fs: 11.5 }); txt(148, 63, 'KCNQ2/3', { fs: 11.5 }); txt(222, 42, '1:100 Cilantro', { fs: 11.5, fill: RED });
txt(80, 166, 'Control', { fs: 11.5 }); txt(222, 166, '1:100 Cilantro', { fs: 11.5, fill: RED }); txt(148, 198, 'KCNQ1', { fs: 11.5 });
txt(128, 317, 'KCNQ1/', { fs: 11.5, align: 'left' }); txt(128, 332, 'KCNE1', { fs: 11.5, align: 'left' });
txt(125, 427, 'KCNQ1/', { fs: 11.5, align: 'left' }); txt(125, 441, 'KCNE3', { fs: 11.5, align: 'left' });
txt(82, 550, 'Control', { fs: 11.5 }); txt(222, 550, '1:100 Cilantro', { fs: 11.5, fill: RED }); txt(147, 588, 'KCNA1', { fs: 11.5 });

const chart = echarts.init(document.getElementById('c'), null, { renderer: 'canvas', width: 784, height: 904 });
chart.setOption({ animation: false, backgroundColor: '#fff', grid: grids, xAxis, yAxis, series, graphic: { elements: graphic } });
</script></body></html>
